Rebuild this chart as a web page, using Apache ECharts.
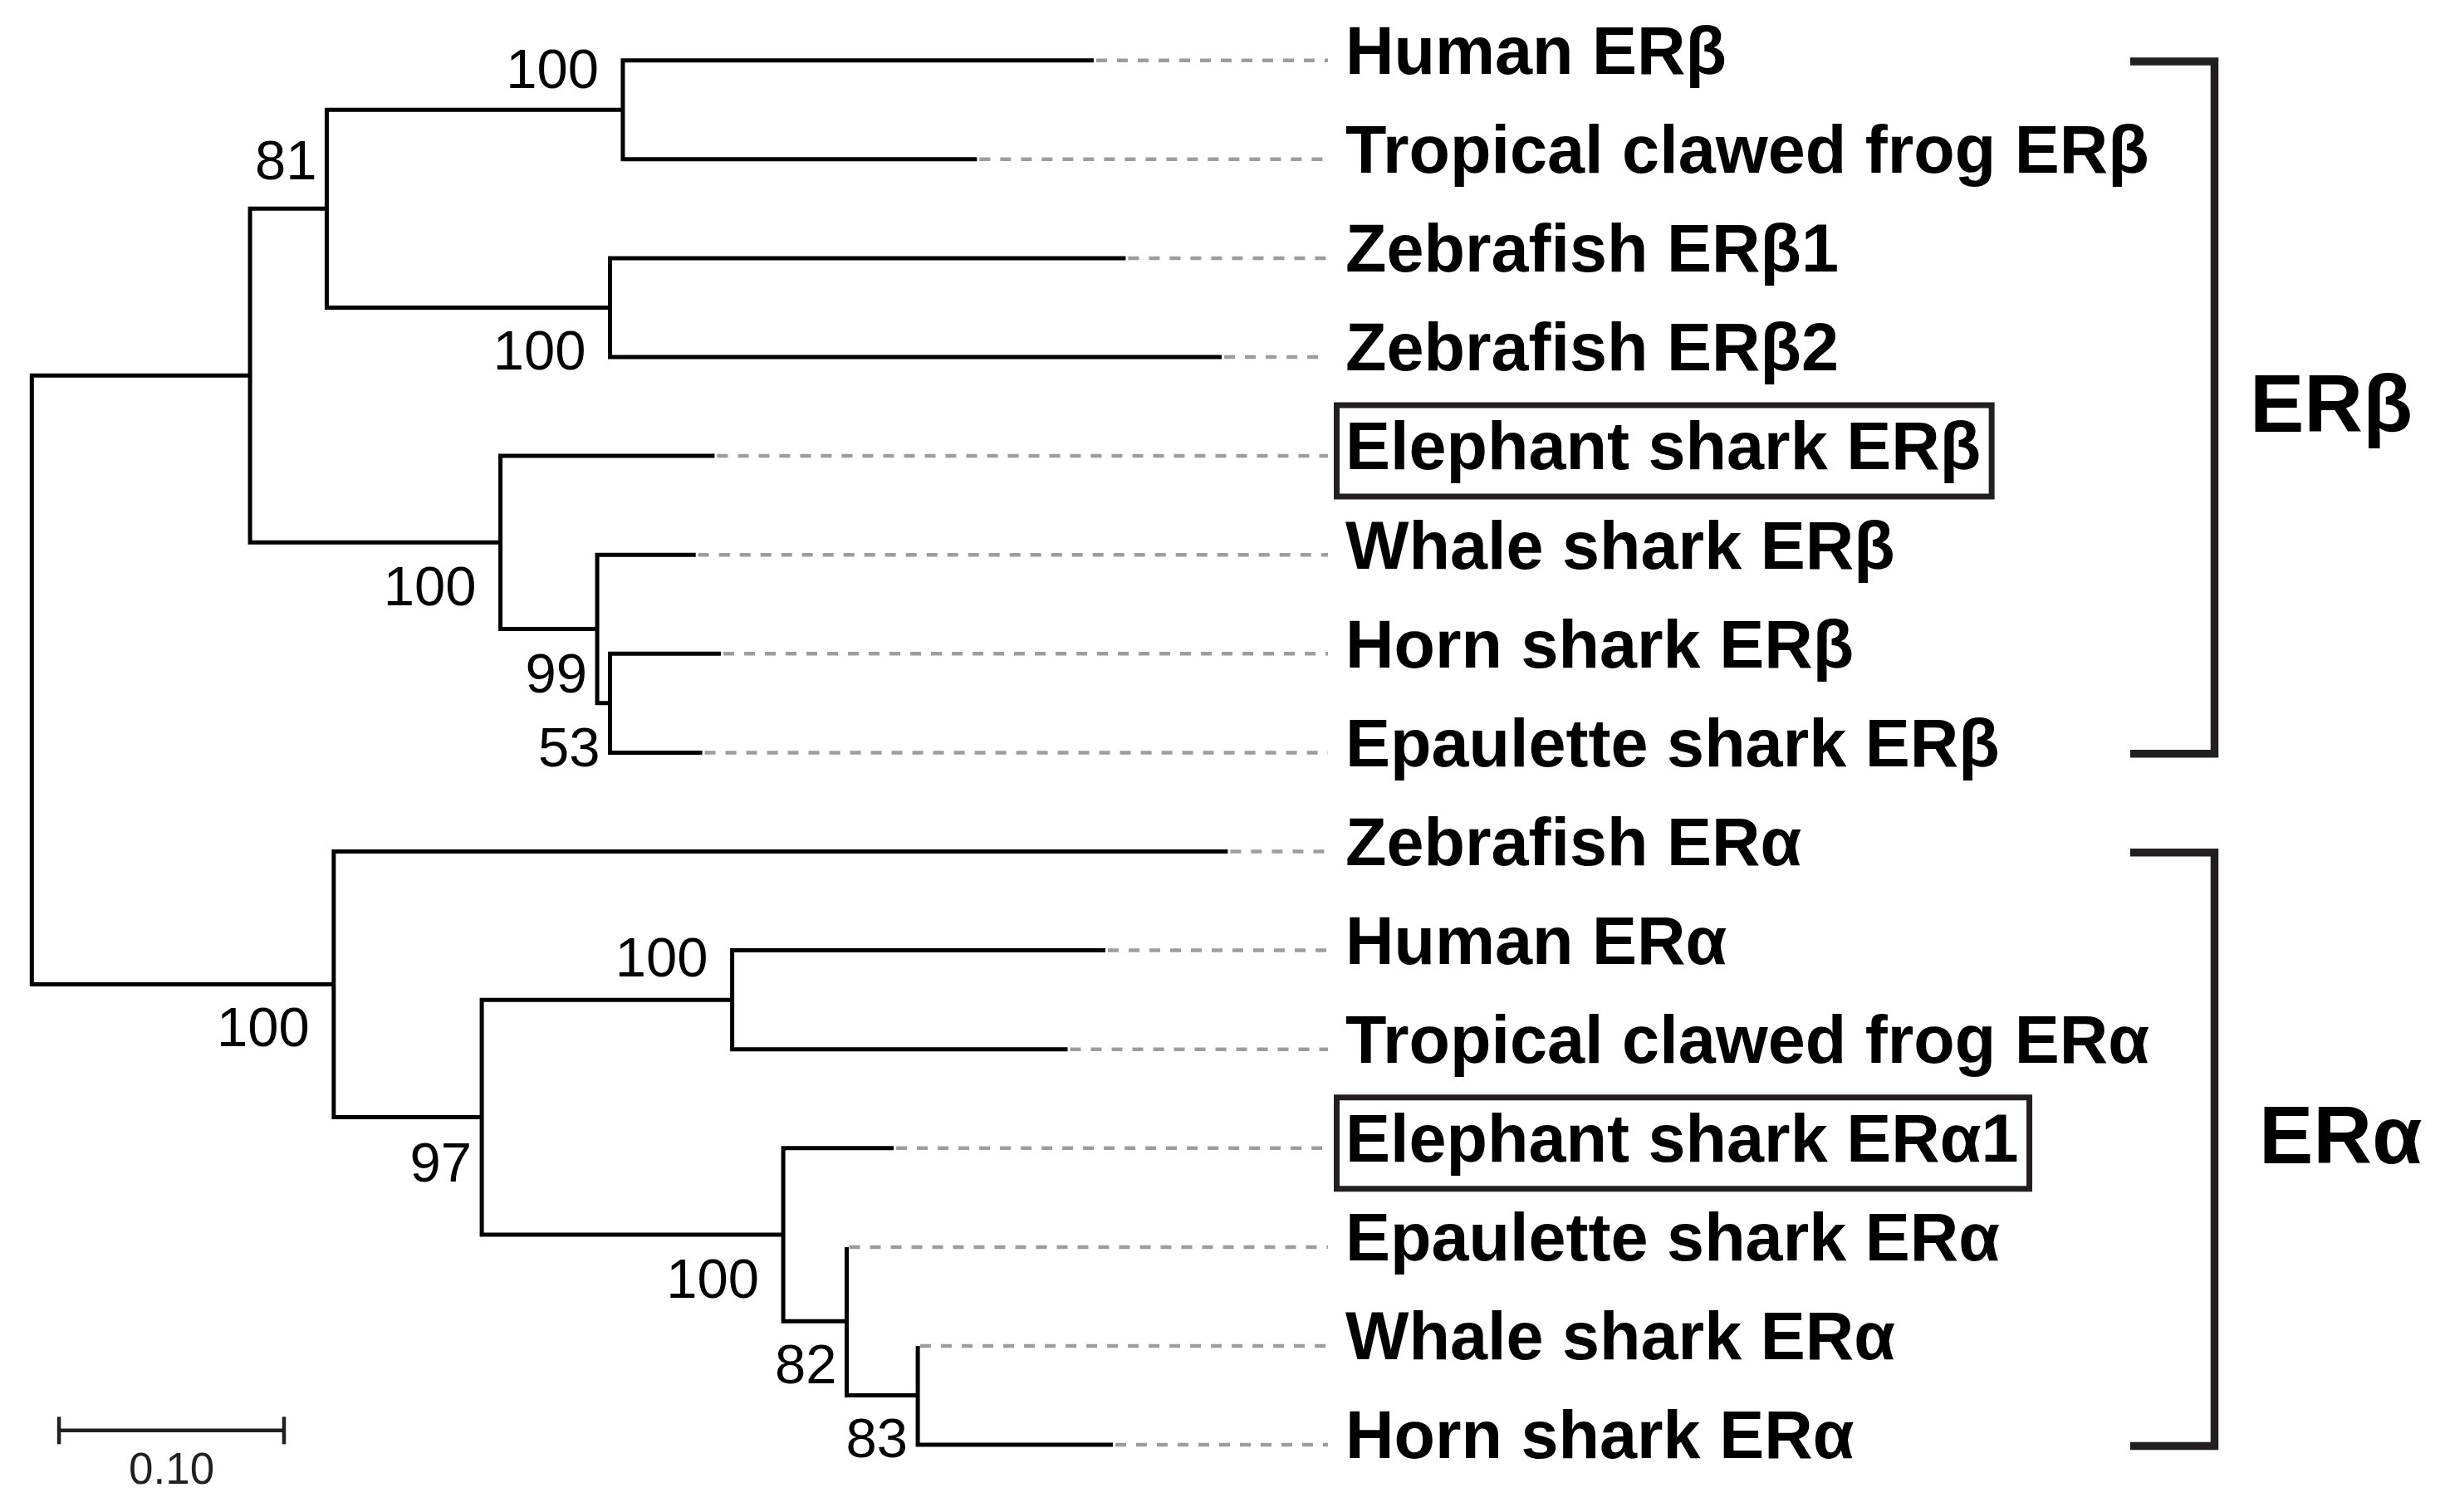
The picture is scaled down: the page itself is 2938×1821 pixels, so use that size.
<!DOCTYPE html>
<html><head><meta charset="utf-8">
<script src="https://cdn.jsdelivr.net/npm/echarts@6/dist/echarts.min.js"></script>
<style>html,body{margin:0;padding:0;background:#fff}#chart{width:2938px;height:1821px}</style>
</head><body><div id="chart"></div>
<script>
// ---------------- data ----------------
const leafNames = ['Human ERβ','Tropical clawed frog ERβ','Zebrafish ERβ1','Zebrafish ERβ2','Elephant shark ERβ','Whale shark ERβ','Horn shark ERβ','Epaulette shark ERβ','Zebrafish ERα','Human ERα','Tropical clawed frog ERα','Elephant shark ERα1','Epaulette shark ERα','Whale shark ERα','Horn shark ERα'];
// distance from root (substitutions per site) of each leaf tip
const leafDepths = [0.4720,0.4201,0.4862,0.5289,0.3035,0.2951,0.3063,0.2980,0.5316,0.4772,0.4604,0.3831,0.3622,0.3938,0.4805];
const boxedLeaves = ['Elephant shark ERβ','Elephant shark ERα1'];
// internal nodes
const nodeIds = ['root','beta','n81','hfB','zfB','shB','n99','n53','alpha','n97','hfA','shA','n82','n83'];
const nodeDepths = [0,0.0970,0.1311,0.2627,0.2570,0.2083,0.2513,0.2570,0.1342,0.2000,0.3113,0.3340,0.3622,0.3938];
const nodeChildren = [['beta','alpha'],['n81','shB'],['hfB','zfB'],[0,1],[2,3],[4,'n99'],[5,'n53'],[6,7],[8,'n97'],['hfA','shA'],[9,10],[11,'n82'],[12,'n83'],[13,14]];
const nodeSupport = [null,null,81,100,100,100,99,53,100,97,100,100,82,83];
const cladeNames = ['ERβ','ERα'];
const cladeFirstLeaf = [0,8];
const cladeLastLeaf = [7,14];
const scaleBarLength = 0.10;
const scaleBarLabel = '0.10';

// ---------------- layout (positions / styles) ----------------
const supportDy = [0,0,-0.505,-0.426,0.421,0.434,0.434,0.432,0.42,0.445,-0.445,0.43,0.42,0.42]; // rows
const DASH_END_X = 1599, LABEL_X = 1620, LABEL_DY = -6, SUPPORT_DY_PX = 6;
const BRACKET_X = 2666.5, BRACKET_ARM_X = 2565;
const cladeLabelX = [2709, 2720], cladeLabelDy = [2, -10];
const scaleStart = 0.0121, scaleRow = 13.855;
const FONT = '"Liberation Sans", Arial, Helvetica, sans-serif';
const INK = '#231f20';

// ---------------- derived ----------------
const idx = {}; nodeIds.forEach((id,i)=>idx[id]=i);
function rowOf(ref){
  if (typeof ref === 'number') return ref;
  const ch = nodeChildren[idx[ref]];
  return (rowOf(ch[0]) + rowOf(ch[ch.length-1]))/2;
}
function depthOf(ref){ return typeof ref === 'number' ? leafDepths[ref] : nodeDepths[idx[ref]]; }
const nodeRows = nodeIds.map(rowOf);
const branchData = nodeIds.map((id,i)=>{
  const ch = nodeChildren[i];
  return [nodeDepths[i], rowOf(ch[0]), rowOf(ch[1]), depthOf(ch[0]), depthOf(ch[1])];
});
const leafData = leafNames.map((n,i)=>[leafDepths[i], i]);
const supportIdx = nodeSupport.map((s,i)=>s==null?-1:i).filter(i=>i>=0);
const supportData = supportIdx.map(i=>[nodeDepths[i], nodeRows[i] + supportDy[i]]);
const cladeData = cladeNames.map((n,i)=>[cladeFirstLeaf[i], cladeLastLeaf[i]]);

const chart = echarts.init(document.getElementById('chart'), null, {renderer:'canvas'});
chart.setOption({
  animation:false,
  backgroundColor:'#fff',
  grid:{left:38.3, top:72.7, width:2709, height:1667.4},
  xAxis:{type:'value', min:0, max:1, show:false},
  yAxis:{type:'value', min:0, max:14, inverse:true, show:false},
  series:[
    { // dashed guides
      type:'custom', clip:false, data:leafData,
      renderItem:(p,api)=>{
        const a = api.coord([api.value(0), api.value(1)]);
        return {type:'line', shape:{x1:a[0]+3, y1:a[1], x2:DASH_END_X, y2:a[1]},
          style:{stroke:'#9d9d9f', lineWidth:4.5, lineDash:[13,12]}};
      }
    },
    { // branches
      type:'custom', clip:false, data:branchData,
      renderItem:(p,api)=>{
        const nd=api.value(0), y1=api.value(1), y2=api.value(2), c1=api.value(3), c2=api.value(4);
        const pts=[api.coord([c1,y1]), api.coord([nd,y1]), api.coord([nd,y2]), api.coord([c2,y2])];
        return {type:'polyline', shape:{points:pts},
          style:{stroke:'#000', lineWidth:5, fill:null, lineJoin:'miter', lineCap:'butt'}};
      }
    },
    { // leaf labels
      type:'custom', clip:false, data:leafData,
      renderItem:(p,api)=>{
        const a = api.coord([api.value(0), api.value(1)]);
        const name = leafNames[p.dataIndex];
        const boxed = boxedLeaves.indexOf(name) >= 0;
        const st = {text:name, fontFamily:FONT, fontWeight:'bold', fontSize:81, fill:'#000',
          align:'left', verticalAlign:'middle', lineHeight:80};
        if (boxed) { Object.assign(st, {borderColor:INK, borderWidth:7, padding:[15,13,15,10.5]}); }
        return {type:'text', x: boxed ? LABEL_X-10.5 : LABEL_X, y: a[1]+LABEL_DY, style:st};
      }
    },
    { // bootstrap support values
      type:'custom', clip:false, data:supportData,
      renderItem:(p,api)=>{
        const a = api.coord([api.value(0), api.value(1)]);
        const t = String(nodeSupport[supportIdx[p.dataIndex]]);
        const gap = 12 + 17*(t.length-2);
        return {type:'text', x:a[0]-gap, y:a[1]+SUPPORT_DY_PX,
          style:{text:t, fontFamily:FONT, fontSize:67, fill:'#000', align:'right', verticalAlign:'middle'}};
      }
    },
    { // clade brackets
      type:'custom', clip:false, data:cladeData,
      renderItem:(p,api)=>{
        const yt = api.coord([0, api.value(0)])[1] + 1.3, yb = api.coord([0, api.value(1)])[1] + 1.3;
        return {type:'group', children:[
          {type:'polyline', shape:{points:[[BRACKET_ARM_X,yt],[BRACKET_X,yt],[BRACKET_X,yb],[BRACKET_ARM_X,yb]]},
            style:{stroke:INK, lineWidth:9.5, fill:null, lineJoin:'miter'}},
          {type:'text', x:cladeLabelX[p.dataIndex], y:(yt+yb)/2 + cladeLabelDy[p.dataIndex],
            style:{text:cladeNames[p.dataIndex], fontFamily:FONT, fontWeight:'bold', fontSize:98, fill:'#000',
              align:'left', verticalAlign:'middle'}}
        ]};
      }
    },
    { // scale bar
      type:'custom', clip:false, data:[[scaleStart, scaleRow, scaleBarLength]],
      renderItem:(p,api)=>{
        const a = api.coord([api.value(0), api.value(1)]);
        const b = api.coord([api.value(0)+api.value(2), api.value(1)]);
        const s = {stroke:INK, lineWidth:4.5, fill:null};
        return {type:'group', children:[
          {type:'line', shape:{x1:a[0], y1:a[1], x2:b[0], y2:b[1]}, style:s},
          {type:'line', shape:{x1:a[0], y1:a[1]-16.5, x2:a[0], y2:a[1]+16.5}, style:s},
          {type:'line', shape:{x1:b[0], y1:b[1]-16.5, x2:b[0], y2:b[1]+16.5}, style:s},
          {type:'text', x:(a[0]+b[0])/2, y:a[1]+50,
            style:{text:scaleBarLabel, fontFamily:FONT, fontSize:53, fill:INK, align:'center', verticalAlign:'middle'}}
        ]};
      }
    }
  ]
});
</script></body></html>
